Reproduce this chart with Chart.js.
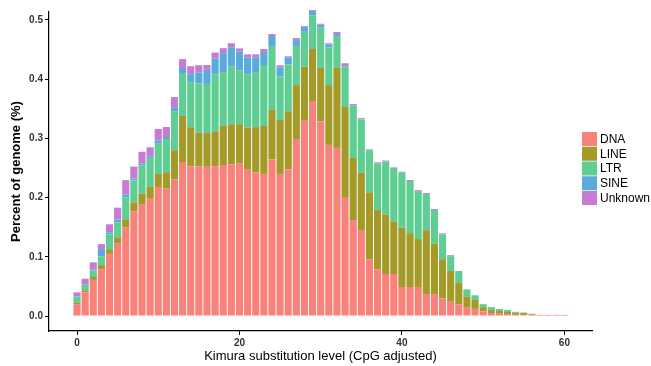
<!DOCTYPE html>
<html>
<head>
<meta charset="utf-8">
<script src="https://cdn.jsdelivr.net/npm/chart.js@4/dist/chart.umd.min.js"></script>
<style>
  html, body { margin: 0; padding: 0; background: #fff; }
  #wrap { width: 651px; height: 366px; }
</style>
</head>
<body>
<div id="wrap"><canvas id="chart" width="651" height="366"></canvas></div>
<script>
// kimura substitution level bins
const kimura = [0, 1, 2, 3, 4, 5, 6, 7, 8, 9, 10, 11, 12, 13, 14, 15, 16, 17, 18, 19, 20,
  21, 22, 23, 24, 25, 26, 27, 28, 29, 30, 31, 32, 33, 34, 35, 36, 37, 38, 39, 40,
  41, 42, 43, 44, 45, 46, 47, 48, 49, 50, 51, 52, 53, 54, 55, 56, 57, 58, 59, 60];

// percent of genome per repeat class
const dna = [0.020, 0.040, 0.061, 0.079, 0.105, 0.123, 0.150, 0.177, 0.188, 0.198,
  0.218, 0.216, 0.231, 0.260, 0.253, 0.253, 0.252, 0.253, 0.255, 0.256,
  0.258, 0.247, 0.243, 0.240, 0.265, 0.240, 0.248, 0.299, 0.331, 0.363,
  0.329, 0.289, 0.284, 0.201, 0.162, 0.144, 0.096, 0.079, 0.071, 0.071,
  0.049, 0.049, 0.049, 0.037, 0.037, 0.030, 0.024, 0.020, 0.014, 0.012,
  0.008, 0.005, 0.005, 0.0034, 0.002, 0.002, 0.002, 0.002, 0.002, 0.002, 0.002];
const line = [0.003, 0.0035, 0.005, 0.007, 0.008, 0.010, 0.0135, 0.015, 0.019, 0.020,
  0.022, 0.027, 0.049, 0.078, 0.066, 0.057, 0.057, 0.059, 0.066, 0.068,
  0.066, 0.071, 0.076, 0.081, 0.083, 0.091, 0.098, 0.091, 0.090, 0.088,
  0.090, 0.101, 0.135, 0.152, 0.105, 0.098, 0.113, 0.100, 0.100, 0.088,
  0.100, 0.091, 0.081, 0.108, 0.085, 0.066, 0.052, 0.036, 0.019, 0.015,
  0.007, 0.005, 0.0034, 0.0034, 0.0034, 0.0034, 0.0017, 0, 0, 0, 0];
const ltr = [0.010, 0.009, 0.011, 0.015, 0.025, 0.025, 0.037, 0.037, 0.047, 0.049,
  0.051, 0.056, 0.066, 0.071, 0.076, 0.083, 0.083, 0.096, 0.091, 0.098,
  0.091, 0.090, 0.093, 0.103, 0.108, 0.074, 0.079, 0.066, 0.059, 0.057,
  0.068, 0.064, 0.054, 0.068, 0.088, 0.090, 0.071, 0.079, 0.090, 0.091,
  0.093, 0.088, 0.081, 0.061, 0.057, 0.042, 0.025, 0.020, 0.012, 0.008,
  0.005, 0.005, 0.0034, 0.0034, 0.0017, 0.0005, 0, 0, 0, 0, 0];
const sine = [0, 0.001, 0.001, 0.012, 0.0034, 0.005, 0.005, 0.0034, 0.0034, 0.002,
  0.005, 0.0034, 0.0068, 0.010, 0.0135, 0.0186, 0.0236, 0.027, 0.032, 0.032,
  0.032, 0.029, 0.025, 0.022, 0.017, 0.015, 0.012, 0.010, 0.008, 0.007,
  0.005, 0.005, 0.0034, 0.001, 0.001, 0.0005, 0.0015, 0, 0, 0,
  0, 0, 0, 0, 0, 0, 0, 0, 0, 0, 0, 0, 0, 0, 0, 0, 0, 0, 0, 0, 0];
const unknown = [0.007, 0.0095, 0.0127, 0.0084, 0.0135, 0.020, 0.024, 0.020, 0.020, 0.016,
  0.020, 0.017, 0.017, 0.015, 0.0135, 0.012, 0.0084, 0.010, 0.0084, 0.0068,
  0.005, 0.005, 0.005, 0.005, 0.0034, 0.0034, 0.0017, 0.0034, 0.0017, 0.0017,
  0.0017, 0.0017, 0.0034, 0.005, 0.002, 0.0017, 0, 0.0017, 0.0017, 0.001,
  0.0017, 0.0017, 0.0017, 0.0017, 0.0017, 0.0017, 0.0017, 0, 0, 0,
  0, 0, 0, 0, 0, 0, 0, 0, 0, 0, 0];

const classNames = ['DNA', 'LINE', 'LTR', 'SINE', 'Unknown'];
const classColors = ['#F8817A', '#A39A28', '#5ECE92', '#58ABDA', '#C77CD3'];
const yTicks = [0, 0.1, 0.2, 0.3, 0.4, 0.5];
const xTicks = [0, 20, 40, 60];

const font = '"Liberation Sans", Arial, sans-serif';

const toPoints = vals => vals.map((v, i) => ({ x: kimura[i], y: v }));

const datasets = [dna, line, ltr, sine, unknown].map((vals, i) => ({
  label: classNames[i],
  data: toPoints(vals),
  backgroundColor: classColors[i],
  borderWidth: 0,
  barPercentage: 0.88,
  categoryPercentage: 1.0,
  clip: false
}));

// legend drawn at the right side like ggplot
const sideLegend = {
  id: 'sideLegend',
  afterDraw(chart) {
    const ctx = chart.ctx;
    ctx.save();
    ctx.font = '12px ' + font;
    ctx.textBaseline = 'middle';
    chart.data.datasets.forEach((ds, i) => {
      const top = 132 + i * 14.75;
      ctx.fillStyle = ds.backgroundColor;
      ctx.fillRect(582, top, 15, 14);
      ctx.fillStyle = '#000';
      ctx.fillText(ds.label, 600, top + 7.5);
    });
    ctx.restore();
  }
};

const ctx = document.getElementById('chart').getContext('2d');
new Chart(ctx, {
  type: 'bar',
  data: { datasets },
  plugins: [sideLegend],
  options: {
    responsive: false,
    animation: false,
    layout: { padding: { left: 0, top: 12, right: 59, bottom: 0 } },
    plugins: { legend: { display: false }, tooltip: { enabled: false } },
    scales: {
      x: {
        type: 'linear',
        stacked: true,
        offset: false,
        min: -3.45,
        max: 63.4,
        afterFit: s => { s.height = 35; },
        afterBuildTicks: s => { s.ticks = xTicks.map(v => ({ value: v })); },
        grid: { display: true, offset: false, drawOnChartArea: false, drawTicks: true, tickLength: 4, color: '#000' },
        border: { display: true, color: '#000', width: 1.2 },
        ticks: { color: '#333', padding: 2, font: { family: font, size: 10, weight: 'bold' } },
        title: {
          display: true,
          text: 'Kimura substitution level (CpG adjusted)',
          color: '#000',
          padding: { top: 0, bottom: 2 },
          font: { family: font, size: 13 }
        }
      },
      y: {
        stacked: true,
        min: -0.0253,
        max: 0.5135,
        afterFit: s => { s.width = 49; },
        afterBuildTicks: s => { s.ticks = yTicks.map(v => ({ value: v })); },
        grid: { display: true, drawOnChartArea: false, drawTicks: true, tickLength: 4, color: '#000' },
        border: { display: true, color: '#000', width: 1.2 },
        ticks: {
          color: '#333',
          padding: 2,
          font: { family: font, size: 10, weight: 'bold' },
          callback: v => v.toFixed(1)
        },
        title: {
          display: true,
          text: 'Percent of genome (%)',
          color: '#000',
          padding: { top: 9, bottom: 0 },
          font: { family: font, size: 13, weight: 'bold' }
        }
      }
    }
  }
});
</script>
</body>
</html>
